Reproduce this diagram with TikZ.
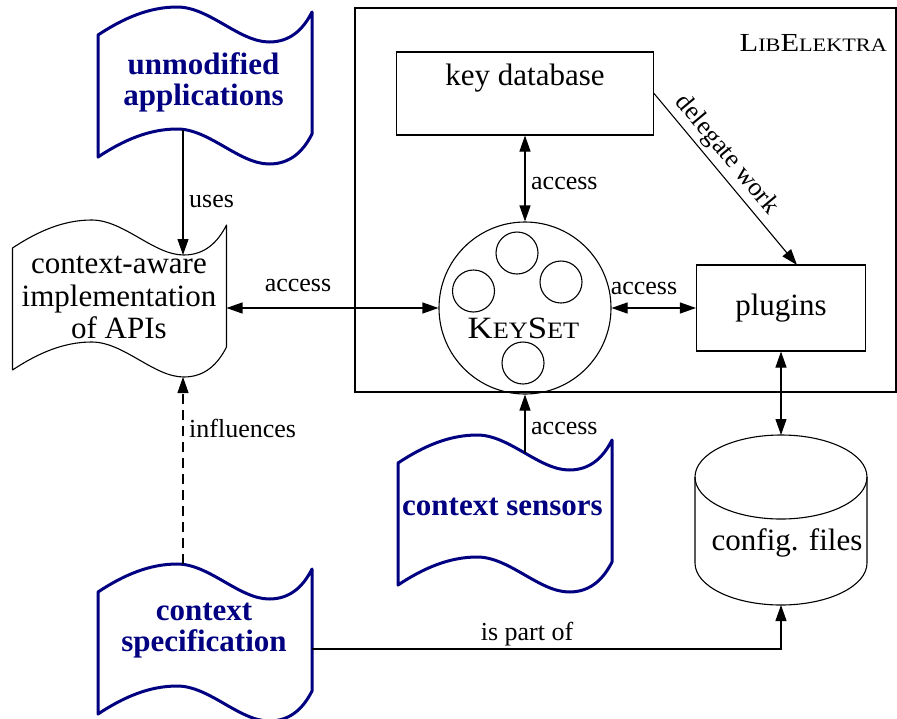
\documentclass[tikz,border=0pt]{standalone}
\usepackage{fontspec}
\setmainfont{Liberation Serif}
\usetikzlibrary{arrows.meta}
\definecolor{navy}{RGB}{0,0,128}
\tikzset{
  tape/.pic={\path[pic actions] (0,0) .. controls (25.7,-17) and (51.4,-28) .. (79.2,-28)
     .. controls (111.3,-28) and (141.2,7) .. (171.2,7)
     .. controls (192.6,7) and (205.4,-6) .. (214,-23) -- (214,99)
     .. controls (205.4,116) and (192.6,129) .. (171.2,129)
     .. controls (141.2,129) and (111.3,94) .. (79.2,94)
     .. controls (51.4,94) and (25.7,105) .. (0,122) -- cycle;}
}
\begin{document}
\begin{tikzpicture}[x=1pt,y=-1pt,
  tip/.tip={Triangle[length=16pt,width=11pt]},
  arr/.style={-tip, line width=1.1pt},
  biarr/.style={tip-tip, line width=1.1pt},
  lbl/.style={font=\fontsize{26}{28}\selectfont, inner sep=2pt},
  big/.style={font=\fontsize{31}{32.5}\selectfont, align=center, inner sep=0pt},
  bigblue/.style={font=\fontsize{31}{31}\selectfont\bfseries, text=navy, align=center, inner sep=0pt},
  box/.style={draw, line width=1.1pt},
  tapeblue/.style={draw=navy, line width=3pt, line join=round},
  tapeblack/.style={draw, line width=1.1pt, line join=round},
]
\useasboundingbox (0,0) rectangle (897,718);

% LibElektra frame
\draw[line width=1.1pt] (355,8) rectangle (896,392);
\node[anchor=base east, inner sep=0pt] (le) at (887,51)
  {\scalebox{1.17}[1]{{\fontsize{26}{26}\selectfont L}{\fontsize{19}{19}\selectfont IB}{\fontsize{26}{26}\selectfont E}{\fontsize{19}{19}\selectfont LEKTRA}}};

% key database
\node[box, minimum width=257pt, minimum height=83pt] (kdb) at (525,93.5) {};
\node[big] (kdbt) at (525,78) {key database};

% plugins
\node[box, minimum width=169pt, minimum height=86pt, font=\fontsize{31}{32}\selectfont] (plug) at (781,308) {plugins};
\coordinate (plugNE) at (797,265);

% KeySet
\node[circle, draw, line width=1.1pt, minimum size=172pt, inner sep=0pt] (ks) at (525,308) {};
\node[circle, draw, line width=1.1pt, minimum size=42pt, inner sep=0pt] (c1) at (517,253) {};
\node[circle, draw, line width=1.1pt, minimum size=42pt, inner sep=0pt] (c2) at (473.5,291) {};
\node[circle, draw, line width=1.1pt, minimum size=42pt, inner sep=0pt] (c3) at (561,282) {};
\node[circle, draw, line width=1.1pt, minimum size=42pt, inner sep=0pt] (c4) at (523,363) {};
\node[anchor=base, inner sep=0pt] (kst) at (523.5,338)
  {\scalebox{1.12}[1]{{\fontsize{31}{31}\selectfont K}{\fontsize{23.5}{23.5}\selectfont EY}{\fontsize{31}{31}\selectfont S}{\fontsize{23.5}{23.5}\selectfont ET}}};

% config files cylinder
\draw[line width=1.1pt] (781,477) ellipse[x radius=86, y radius=42];
\draw[line width=1.1pt] (695,477) -- (695,563)
  .. controls (695,586.2) and (733.5,605) .. (781,605)
  .. controls (828.5,605) and (867,586.2) .. (867,563) -- (867,477);
\coordinate (cyltop) at (781,435);
\coordinate (cylbot) at (781,605);
\node[big] (cf) at (787,543) {config. files};

% tapes
\pic[tapeblue] at (98,35) {tape};
\node[bigblue] (ua) at (203.5,82) {unmodified\\applications};
\coordinate (uaBot) at (183,129.5);

\pic[tapeblack] at (12.5,248) {tape};
\node[big] (ca) at (119,297.5) {context-aware\\implementation\\of APIs};
\coordinate (caTop) at (183,255);
\coordinate (caBot) at (183,377);
\coordinate (caR) at (226.5,308);

\pic[tapeblue] at (98,592) {tape};
\node[bigblue] (spec) at (204,631) {context\\specification};
\coordinate (specTop) at (183,564);
\coordinate (specR) at (312,649);

\pic[tapeblue] at (398,463) {tape};
\node[bigblue] (cs) at (502.5,507) {context sensors};
\coordinate (csTop) at (525,453);

% connectors
\draw[biarr] (kdb.south) -- (ks.north);
\node[lbl, anchor=west] (la1) at (529,183) {access};
\draw[biarr] (ks.east) -- (plug.west);
\node[lbl] (la3) at (644,288) {access};
\draw[biarr] (ks.west) -- (caR);
\node[lbl] (la4) at (298,285) {access};
\draw[arr] (csTop) -- (ks.south);
\node[lbl, anchor=west] (la2) at (529,428) {access};
\draw[arr] (kdb.east) -- node[lbl, sloped, above, pos=0.42, inner sep=4pt] (ld) {delegate work} (plugNE);
\draw[biarr] (plug.south) -- (cyltop);
\draw[arr] (uaBot) -- (caTop);
\node[lbl, anchor=west] (lu) at (187,201) {uses};
\draw[arr, dash pattern=on 10pt off 6pt] (specTop) -- (caBot);
\node[lbl, anchor=west] (li) at (187,428) {influences};
\draw[arr] (specR) -| (cylbot);
\node[lbl] (lp) at (527,634) {is part of};
\end{tikzpicture}
\end{document}
